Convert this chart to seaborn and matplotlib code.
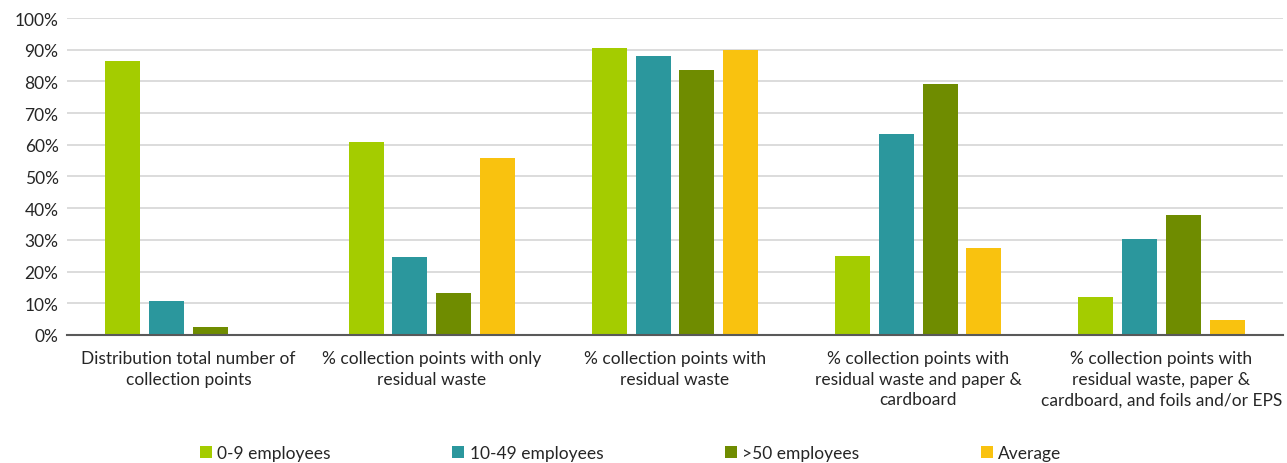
import seaborn as sns
import matplotlib.pyplot as plt
import pandas as pd

categories = [
    "Distribution total number of\ncollection points",
    "% collection points with only\nresidual waste",
    "% collection points with\nresidual waste",
    "% collection points with\nresidual waste and paper &\ncardboard",
    "% collection points with\nresidual waste, paper &\ncardboard, and foils and/or EPS",
]
groups = ["0-9 employees", "10-49 employees", ">50 employees", "Average"]
small = [86.5, 61.0, 90.4, 24.9, 12.0]
medium = [10.8, 24.6, 88.1, 63.3, 30.3]
large = [2.5, 13.2, 83.6, 79.2, 37.8]
average = [0.0, 55.7, 89.9, 27.4, 4.7]
colors = ["#A4CC00", "#2B979D", "#6F8C00", "#F9C20F"]

rows = []
for g, vals in zip(groups, [small, medium, large, average]):
    for c, v in zip(categories, vals):
        rows.append({"category": c, "group": g, "value": v})
df = pd.DataFrame(rows)

sns.set_style("white")
plt.rcParams["font.family"] = ["Lato", "DejaVu Sans"]

fig = plt.figure(figsize=(12.87, 4.64), dpi=100)
ax = fig.add_axes([0.052, 0.276, 0.945, 0.683])
sns.barplot(data=df, x="category", y="value", hue="group", palette=colors,
            saturation=1, width=0.72, gap=0.2, linewidth=0, ax=ax, legend=True)

ax.set_ylim(0, 100)
ax.set_xlim(-0.5, 4.5)
ax.set_yticks(range(0, 101, 10))
ax.set_yticklabels([f"{t}%" for t in range(0, 101, 10)], fontsize=12.5, color="#262626")
ax.tick_params(axis="x", labelsize=12.5, colors="#262626", length=0, pad=11)
ax.tick_params(axis="y", length=0, pad=6)
for lab in ax.get_xticklabels():
    lab.set_linespacing(1.35)
ax.yaxis.grid(True, color="#D9D9D9", linewidth=1.3)
ax.set_axisbelow(True)
for s in ["top", "right", "left"]:
    ax.spines[s].set_visible(False)
ax.spines["bottom"].set_color("#595959")
ax.spines["bottom"].set_linewidth(1.5)
ax.set_xlabel("")
ax.set_ylabel("")

handles, labels = ax.get_legend_handles_labels()
ax.legend_.remove()
fig.legend(handles, labels, loc="lower center", bbox_to_anchor=(0.49, -0.03), ncol=4,
           frameon=False, fontsize=12.5, handlelength=0.7, handleheight=0.7,
           handletextpad=0.3, columnspacing=7.0, labelcolor="#262626")

fig.savefig("out.png", dpi=100)
